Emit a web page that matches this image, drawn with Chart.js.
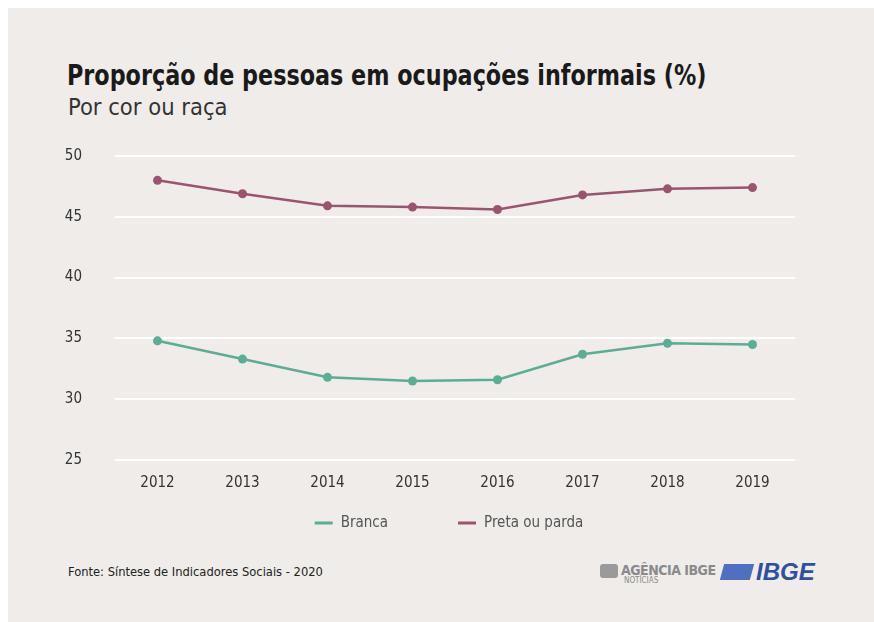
<!DOCTYPE html>
<html>
<head>
<meta charset="utf-8">
<script src="https://cdn.jsdelivr.net/npm/chart.js@4/dist/chart.umd.min.js"></script>
<style>
  html, body { margin: 0; padding: 0; background: #ffffff; }
  body { width: 874px; height: 622px; position: relative; overflow: hidden;
         font-family: 'Liberation Sans Narrow', 'DejaVu Sans Condensed', 'Roboto', sans-serif; }
  #panel { position: absolute; left: 8px; top: 8px; width: 866px; height: 614px; background: #efece9; }
  #chartWrap { position: absolute; left: 0; top: 0; width: 874px; height: 622px; }
  .t { position: absolute; white-space: nowrap; color: #1a1a1a; }
  #title { left: 67px; top: 59px; font-size: 28px; font-weight: bold; transform: scaleX(0.885); transform-origin: left center; }
  #subtitle { left: 68px; top: 93px; font-size: 23.5px; color: #333; }
  #source { left: 68px; top: 564px; font-size: 12.8px; color: #222; }
  #agencia { left: 600px; top: 560px; color: #8a8a8a; }
  #ibge { left: 722px; top: 558px; }
</style>
</head>
<body>
<div id="panel"></div>
<div class="t" id="title">Proporção de pessoas em ocupações informais (%)</div>
<div class="t" id="subtitle">Por cor ou raça</div>
<div class="t" id="source">Fonte: Síntese de Indicadores Sociais - 2020</div>
<div class="t" id="agencia">
  <span style="display:inline-block;width:18px;height:14px;background:#9a9a9a;border-radius:3px;vertical-align:middle;margin-right:3px;"></span><span style="font-size:14px;font-weight:bold;letter-spacing:-0.5px;">AGÊNCIA IBGE</span>
  <div style="font-size:8px;margin-left:24px;margin-top:-3px;">NOTÍCIAS</div>
</div>
<div class="t" id="ibge">
  <span style="display:inline-block;width:30px;height:16px;background:#4f6fc0;transform:skewX(-15deg);vertical-align:middle;margin-right:4px;"></span><span style="font-family:'Liberation Sans','DejaVu Sans',sans-serif;font-size:24px;font-weight:bold;font-style:italic;color:#2f4f9f;vertical-align:middle;">IBGE</span>
</div>
<div id="chartWrap"><canvas id="c" width="874" height="622"></canvas></div>
<script>
const years = ['2012', '2013', '2014', '2015', '2016', '2017', '2018', '2019'];
const branca = [34.8, 33.3, 31.8, 31.5, 31.6, 33.7, 34.6, 34.5];
const pretaParda = [48.0, 46.9, 45.9, 45.8, 45.6, 46.8, 47.3, 47.4];
const seriesNames = ['Branca', 'Preta ou parda'];
const yTicks = [25, 30, 35, 40, 45, 50];

const FONT = "'Liberation Sans Narrow', 'DejaVu Sans Condensed', sans-serif";
const TEAL = '#5aae96';
const MAROON = '#9a5470';

const legendPlugin = {
  id: 'customLegend',
  afterDraw(chart) {
    const ctx = chart.ctx;
    const y = 523;
    const boxW = 18, boxH = 3, textGap = 8, itemGap = 70;
    ctx.save();
    ctx.font = '15px ' + FONT;
    const items = chart.data.datasets.map(ds => ({ text: ds.label, color: ds.borderColor, w: boxW + textGap + ctx.measureText(ds.label).width }));
    const total = items.reduce((a, it) => a + it.w, 0) + itemGap * (items.length - 1);
    let x = 449 - total / 2;
    items.forEach(it => {
      ctx.fillStyle = it.color;
      ctx.fillRect(x, y - boxH / 2, boxW, boxH);
      ctx.fillStyle = '#555';
      ctx.textBaseline = 'middle';
      ctx.textAlign = 'left';
      ctx.fillText(it.text, x + boxW + textGap, y);
      x += it.w + itemGap;
    });
    ctx.restore();
  }
};

new Chart(document.getElementById('c'), {
  type: 'line',
  data: {
    labels: years,
    datasets: [
      { label: seriesNames[0], data: branca, borderColor: TEAL, backgroundColor: TEAL,
        borderWidth: 2.5, pointRadius: 4.5, pointBackgroundColor: TEAL, pointBorderWidth: 0, tension: 0 },
      { label: seriesNames[1], data: pretaParda, borderColor: MAROON, backgroundColor: MAROON,
        borderWidth: 2.5, pointRadius: 4.5, pointBackgroundColor: MAROON, pointBorderWidth: 0, tension: 0 }
    ]
  },
  options: {
    responsive: false,
    animation: false,
    layout: { padding: { top: 156, left: 0, right: 79, bottom: 122 } },
    plugins: { legend: { display: false }, tooltip: { enabled: false }, title: { display: false } },
    scales: {
      x: {
        offset: true,
        grid: { display: false },
        border: { display: false },
        ticks: { color: '#333', font: { family: FONT, size: 15 }, padding: 6 },
        afterFit(s) { s.height = 40; }
      },
      y: {
        min: yTicks[0], max: yTicks[yTicks.length - 1],
        afterBuildTicks(s) { s.ticks = yTicks.map(v => ({ value: v })); },
        grid: { color: '#ffffff', lineWidth: 2, drawTicks: false },
        border: { display: false },
        ticks: { color: '#333', font: { family: FONT, size: 15 }, padding: 33 },
        afterFit(s) { s.width = 115; }
      }
    }
  },
  plugins: [legendPlugin]
});
</script>
</body>
</html>
